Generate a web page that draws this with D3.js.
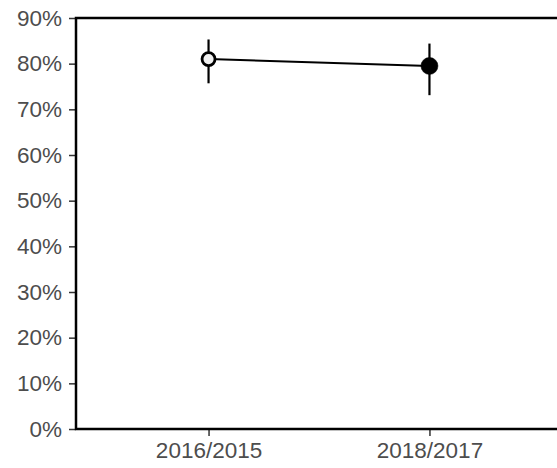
<!DOCTYPE html>
<html lang="en">
  <head>
    <meta charset="UTF-8" />
    <title>Share by period</title>
    <script src="https://d3js.org/d3.v7.min.js"></script>
    <style>
      body { margin: 0; background: #fff; }
      svg { display: block; font-family: "Liberation Sans", Arial, sans-serif; }
      .tick text { fill: #4d4d4d; font-size: 22.5px; }
      .tick line { stroke: #333; stroke-width: 1.5; }
      .domain { display: none; }
    </style>
  </head>
  <body>
    <script>
      // data
      const periods = ["2016/2015", "2018/2017"];
      const values = [0.81, 0.795];
      const lower = [0.757, 0.731];
      const upper = [0.853, 0.844];
      const filled = [false, true];
      const yTicks = [0, 0.1, 0.2, 0.3, 0.4, 0.5, 0.6, 0.7, 0.8, 0.9];

      const width = 557, height = 468;
      const padLeft = 76, padTop = 18, padBottom = 429;

      const svg = d3.select("body").append("svg")
        .attr("width", width)
        .attr("height", height);

      const x = d3.scalePoint().domain(periods).range([padLeft, 562]).padding(0.6);
      const y = d3.scaleLinear().domain([0, 0.9]).range([padBottom, padTop]);

      svg.append("g")
        .attr("transform", `translate(${padLeft},0)`)
        .call(d3.axisLeft(y).tickValues(yTicks).tickFormat(d3.format(".0%")).tickSizeOuter(0).tickSize(7).tickPadding(7));

      svg.append("g")
        .attr("transform", `translate(0,${padBottom})`)
        .call(d3.axisBottom(x).tickSize(7).tickPadding(6));

      // frame lines: left, bottom, top
      svg.append("path")
        .attr("d", `M${width},${padTop}H${padLeft}V${padBottom}H${width}`)
        .attr("fill", "none")
        .attr("stroke", "#000")
        .attr("stroke-width", 2.5);

      const rows = periods.map((p, i) => ({ p, v: values[i], lo: lower[i], hi: upper[i], f: filled[i] }));

      svg.selectAll(".err").data(rows).join("line")
        .attr("x1", d => x(d.p)).attr("x2", d => x(d.p))
        .attr("y1", d => y(d.lo)).attr("y2", d => y(d.hi))
        .attr("stroke", "#000").attr("stroke-width", 2.2);

      svg.append("path")
        .datum(rows)
        .attr("fill", "none")
        .attr("stroke", "#000")
        .attr("stroke-width", 2)
        .attr("d", d3.line().x(d => x(d.p)).y(d => y(d.v)));

      svg.selectAll(".pt").data(rows).join("circle")
        .attr("cx", d => x(d.p)).attr("cy", d => y(d.v))
        .attr("r", d => d.f ? 8.5 : 6.5)
        .attr("fill", d => d.f ? "#000" : "#f0f0f0")
        .attr("stroke", "#000")
        .attr("stroke-width", d => d.f ? 0.5 : 2.8);
    </script>
  </body>
</html>
